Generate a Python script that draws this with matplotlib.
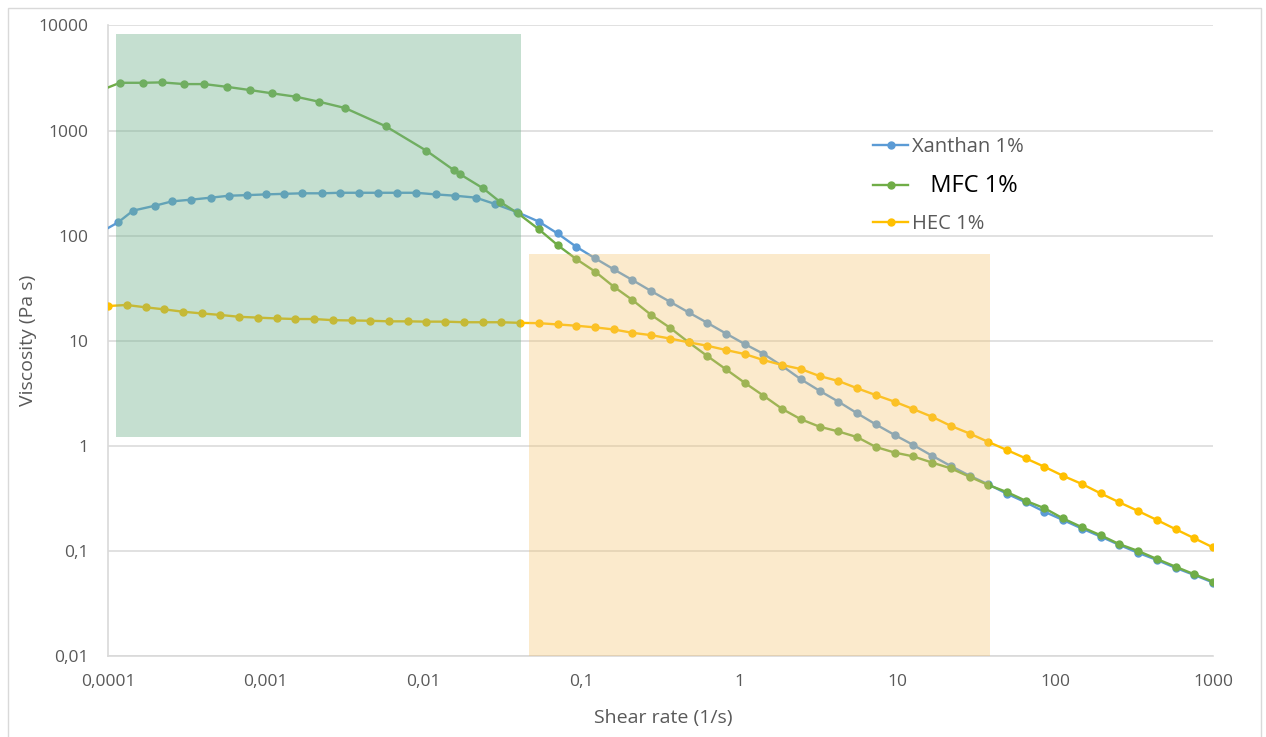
import matplotlib
matplotlib.use("Agg")
import matplotlib.pyplot as plt
from matplotlib.patches import Rectangle
from matplotlib.lines import Line2D

# shear rate grid (1/s) shared by HEC and the upper part of the other two sweeps
shear_rate = [1.00e-4, 1.31e-4, 1.73e-4, 2.27e-4, 2.98e-4, 3.92e-4, 5.15e-4, 6.77e-4, 8.90e-4, 1.17e-3,
              1.54e-3, 2.02e-3, 2.65e-3, 3.49e-3, 4.58e-3, 6.02e-3, 7.91e-3, 1.04e-2, 1.37e-2, 1.80e-2,
              2.36e-2, 3.10e-2, 4.08e-2, 5.36e-2, 7.04e-2, 9.25e-2, 0.122, 0.160, 0.210, 0.276,
              0.363, 0.477, 0.626, 0.823, 1.08, 1.42, 1.87, 2.45, 3.22, 4.24,
              5.57, 7.31, 9.61, 12.6, 16.6, 21.8, 28.7, 37.7, 49.5, 65.1,
              85.5, 112, 148, 194, 255, 335, 441, 579, 761, 1000]

hec_visc = [21.4, 21.9, 20.8, 19.9, 18.9, 18.2, 17.6, 16.9, 16.6, 16.3,
            16.1, 16.1, 15.7, 15.6, 15.5, 15.3, 15.3, 15.2, 15.2, 15.0,
            15.0, 15.0, 14.8, 14.7, 14.3, 13.9, 13.4, 12.8, 11.9, 11.3,
            10.5, 9.66, 8.96, 8.16, 7.47, 6.55, 5.87, 5.38, 4.61, 4.14,
            3.53, 3.04, 2.63, 2.24, 1.89, 1.55, 1.31, 1.09, 0.912, 0.760,
            0.632, 0.519, 0.433, 0.353, 0.290, 0.240, 0.197, 0.161, 0.132, 0.108]

xanthan_rate_low = [8.8e-5, 1.16e-4, 1.44e-4, 1.99e-4, 2.54e-4, 3.35e-4, 4.49e-4, 5.84e-4, 7.59e-4, 1.00e-3,
                    1.30e-3, 1.69e-3, 2.27e-3, 2.95e-3, 3.89e-3, 5.13e-3, 6.76e-3, 8.93e-3, 1.19e-2, 1.58e-2,
                    2.14e-2, 2.83e-2, 3.89e-2]
xanthan_visc = [106, 134, 173, 193, 212, 220, 230, 240, 243, 247,
                250, 253, 253, 256, 256, 256, 256, 256, 247, 240,
                230, 200, 168,
                136, 105, 78.4, 60.8, 47.8, 37.8, 29.7, 23.5, 18.6, 14.8,
                11.7, 9.31, 7.5, 5.74, 4.3, 3.34, 2.63, 2.04, 1.60, 1.27,
                1.02, 0.805, 0.643, 0.52, 0.43, 0.35, 0.29, 0.236, 0.197, 0.163,
                0.137, 0.114, 0.096, 0.082, 0.069, 0.059, 0.050]

mfc_rate_low = [8.6e-5, 1.19e-4, 1.66e-4, 2.19e-4, 3.04e-4, 4.07e-4, 5.64e-4, 7.93e-4, 1.10e-3, 1.55e-3,
                2.18e-3, 3.17e-3, 5.74e-3, 1.04e-2, 1.55e-2, 1.69e-2, 2.38e-2, 3.04e-2, 3.96e-2]
mfc_visc = [2350, 2850, 2850, 2875, 2770, 2770, 2610, 2430, 2260, 2100,
            1880, 1640, 1100, 643, 421, 386, 282, 210, 163,
            115, 81.4, 59.9, 45.4, 32.7, 24.4, 17.6, 13.3, 9.66, 7.15,
            5.34, 3.98, 3.00, 2.24, 1.79, 1.52, 1.37, 1.21, 0.975, 0.863,
            0.794, 0.693, 0.611, 0.508, 0.424, 0.363, 0.300, 0.255, 0.204, 0.168,
            0.141, 0.116, 0.100, 0.0838, 0.0708, 0.0599, 0.0510]

xanthan_rate = xanthan_rate_low + shear_rate[23:]
mfc_rate = mfc_rate_low + shear_rate[23:]

x_ticks = [1e-4, 1e-3, 1e-2, 1e-1, 1, 10, 100, 1000]
x_tick_labels = ["0,0001", "0,001", "0,01", "0,1", "1", "10", "100", "1000"]
y_ticks = [0.01, 0.1, 1, 10, 100, 1000, 10000]
y_tick_labels = ["0,01", "0,1", "1", "10", "100", "1000", "10000"]

# highlighted regions (shear rate range, viscosity range)
green_box = [(1.12e-4, 0.0413), (1.21, 8280)]
orange_box = [(0.0463, 38.5), (0.01, 66.8)]

series = [("Xanthan 1%", xanthan_rate, xanthan_visc, "#5b9bd5"),
          ("MFC 1%", mfc_rate, mfc_visc, "#70ad47"),
          ("HEC 1%", shear_rate, hec_visc, "#ffc000")]

grey = "#595959"
plt.rcParams["font.family"] = ["Open Sans", "DejaVu Sans"]

W, H = 1266, 737
fig = plt.figure(figsize=(W / 100, H / 100), dpi=100)
ax = fig.add_axes([108 / W, 1 - 656 / H, (1213 - 108) / W, (656 - 25.5) / H])

# outer chart frame
fig.add_artist(Rectangle((8 / W, -0.01), (1261 - 8) / W, 1.01 - 8 / H, transform=fig.transFigure,
                         fill=False, ec="#d9d9d9", lw=1))

for name, xs, ys, col in series:
    ax.plot(xs, ys, color=col, lw=1.7, marker="o", ms=5, mec=col, mfc=col, zorder=3)

ax.set_xscale("log")
ax.set_yscale("log")
ax.set_xlim(1e-4, 1000)
ax.set_ylim(0.01, 10000)
ax.set_xticks(x_ticks)
ax.set_xticklabels(x_tick_labels)
ax.set_yticks(y_ticks)
ax.set_yticklabels(y_tick_labels)
ax.minorticks_off()
ax.tick_params(axis="both", length=0, labelsize=12.5, labelcolor=grey)
ax.tick_params(axis="x", pad=13)
ax.tick_params(axis="y", pad=14)

ax.yaxis.grid(True, color="#d9d9d9", lw=1.1, zorder=0)
ax.set_axisbelow(True)
for s in ["top", "right"]:
    ax.spines[s].set_visible(False)
for s in ["left", "bottom"]:
    ax.spines[s].set_color("#d9d9d9")
    ax.spines[s].set_linewidth(1.2)

# translucent highlight boxes drawn over the curves
(gx0, gx1), (gy0, gy1) = green_box
ax.add_patch(Rectangle((gx0, gy0), gx1 - gx0, gy1 - gy0, fc="#70b08a", alpha=0.4, lw=0, zorder=5))
(ox0, ox1), (oy0, oy1) = orange_box
ax.add_patch(Rectangle((ox0, oy0), ox1 - ox0, oy1 - oy0, fc="#f5c36e", alpha=0.35, lw=0, zorder=5,
                       clip_on=False))

fig.text(28 / W, 1 - 340 / H, "Viscosity (Pa s)", rotation=90, ha="center", va="center",
         fontsize=14, color=grey)
fig.text(663 / W, 1 - 718 / H, "Shear rate (1/s)", ha="center", va="center", fontsize=14, color=grey)

handles = [Line2D([], [], color=c, lw=1.7, marker="o", ms=5) for _, _, _, c in series]
labels = ["Xanthan 1%", "   MFC 1%", "HEC 1%"]
leg = ax.legend(handles, labels, loc="upper left", bbox_to_anchor=(863 / W, 1 - 127 / H),
                bbox_transform=fig.transFigure, frameon=False, fontsize=14.5, handlelength=1.75,
                handletextpad=0.2, labelspacing=0.82, borderpad=0)
for i, t in enumerate(leg.get_texts()):
    if i == 1:
        t.set_fontsize(17)
        t.set_color("black")
    else:
        t.set_color(grey)
leg.set_zorder(6)

fig.savefig("out.png", dpi=100)
